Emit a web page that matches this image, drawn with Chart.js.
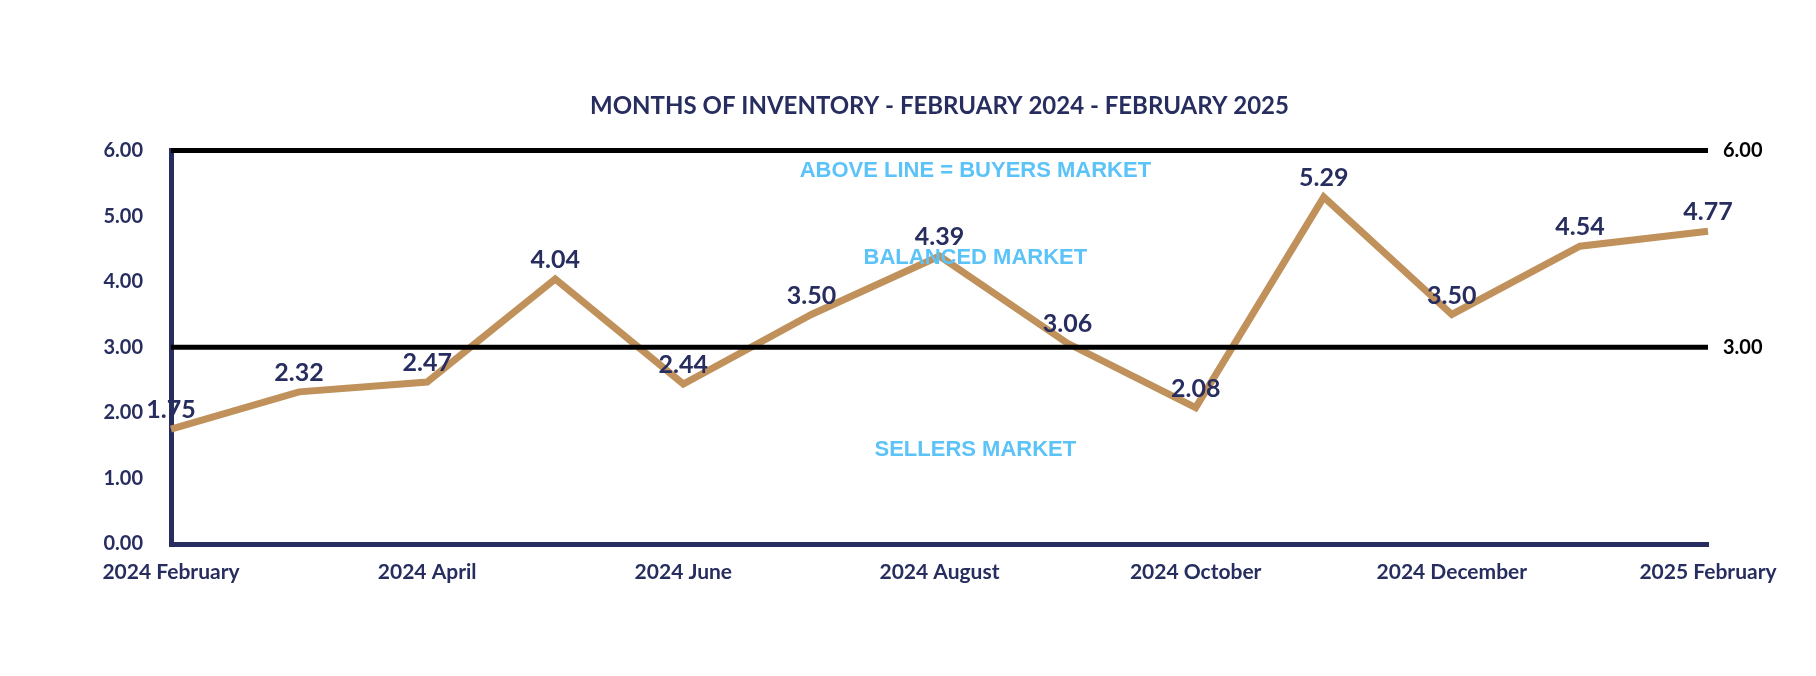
<!DOCTYPE html>
<html>
<head>
<meta charset="utf-8">
<title>Months of Inventory</title>
<script src="https://cdn.jsdelivr.net/npm/chart.js@4.4.1/dist/chart.umd.min.js"></script>
<style>
    body { margin: 0; background: #ffffff; }
    .chart-box { width: 1816px; height: 676px; }
</style>
</head>
<body>
<div class="chart-box"><canvas id="chart-inventory"></canvas></div>
<script>
// data
const months = [
    '2024 February', '2024 March', '2024 April', '2024 May', '2024 June',
    '2024 July', '2024 August', '2024 September', '2024 October',
    '2024 November', '2024 December', '2025 January', '2025 February'
];
const inventory = [1.75, 2.32, 2.47, 4.04, 2.44, 3.50, 4.39, 3.06, 2.08, 5.29, 3.50, 4.54, 4.77];
const rightTicks = [3, 6];
const marketLines = [3, 6];
const zoneLabels = ['ABOVE LINE = BUYERS MARKET', 'BALANCED MARKET', 'SELLERS MARKET'];
const zoneValues = [5.69, 4.36, 1.43];
const titleText = 'MONTHS OF INVENTORY - FEBRUARY 2024 - FEBRUARY 2025';

const navy = '#272e5f';
const tan = '#c0915a';
const sky = '#5bc3f8';
const tickFont = { family: 'Lato, "Noto Sans", sans-serif', size: 20, weight: 'bold' };

// lines, zone text, value labels and title on top of the line
const overlay = {
    id: 'overlay',
    afterDatasetsDraw(chart) {
        const { ctx, chartArea, scales } = chart;
        ctx.save();

        ctx.strokeStyle = '#000000';
        ctx.lineWidth = 5;
        marketLines.forEach(v => {
            let y = scales.y.getPixelForValue(v);
            ctx.beginPath();
            ctx.moveTo(chartArea.left, y);
            ctx.lineTo(chartArea.right, y);
            ctx.stroke();
        });

        ctx.textAlign = 'center';
        ctx.textBaseline = 'middle';
        ctx.fillStyle = sky;
        ctx.font = 'bold 22px "Liberation Sans", Arial, sans-serif';
        let zx = scales.x.getPixelForValue(6.28);
        zoneLabels.forEach((t, i) => {
            ctx.fillText(t, zx, scales.y.getPixelForValue(zoneValues[i]));
        });

        ctx.fillStyle = navy;
        ctx.font = 'bold 25px Lato, "Noto Sans", sans-serif';
        chart.getDatasetMeta(0).data.forEach((pt, i) => {
            ctx.fillText(inventory[i].toFixed(2), pt.x, pt.y - 19);
        });

        ctx.font = 'bold 24px Lato, "Noto Sans", sans-serif';
        ctx.fillText(titleText, (chartArea.left + chartArea.right) / 2, 106);
        ctx.restore();
    }
};

const ctx = document.getElementById('chart-inventory').getContext('2d');
const chart = new Chart(ctx, {
    type: 'line',
    data: {
        labels: months,
        datasets: [{
            label: 'Months of inventory',
            data: inventory,
            borderColor: tan,
            borderWidth: 7,
            borderJoinStyle: 'miter',
            pointRadius: 0,
            tension: 0,
            clip: false,
            yAxisID: 'y'
        }]
    },
    plugins: [overlay],
    options: {
        responsive: true,
        maintainAspectRatio: false,
        animation: false,
        layout: { padding: { top: 150.5, left: 0, right: 0, bottom: 0 } },
        plugins: {
            legend: { display: false },
            tooltip: { enabled: false }
        },
        scales: {
            x: {
                offset: false,
                grid: { display: false, drawTicks: false },
                border: { display: true, color: navy, width: 5 },
                ticks: {
                    color: navy,
                    font: { family: 'Lato, "Noto Sans", sans-serif', size: 21, weight: 'bold' },
                    padding: 16,
                    autoSkip: false,
                    maxRotation: 0,
                    callback: function (val, i) {
                        return i % 2 === 0 ? months[i] : '';
                    }
                },
                afterFit: function (scale) { scale.height = 132; }
            },
            y: {
                position: 'left',
                min: 0,
                max: 6,
                grid: { display: false, drawTicks: false },
                border: { display: true, color: navy, width: 5 },
                ticks: {
                    stepSize: 1,
                    color: navy,
                    font: tickFont,
                    padding: 28,
                    callback: v => v.toFixed(2)
                },
                afterFit: function (scale) { scale.width = 171; }
            },
            y2: {
                position: 'right',
                min: 0,
                max: 6,
                grid: { display: false, drawTicks: false },
                border: { display: false },
                ticks: {
                    color: '#000000',
                    font: tickFont,
                    padding: 15,
                    callback: v => v.toFixed(2)
                },
                afterBuildTicks: function (scale) {
                    scale.ticks = rightTicks.map(v => ({ value: v }));
                },
                afterFit: function (scale) { scale.width = 108; }
            }
        }
    }
});
</script>
</body>
</html>
